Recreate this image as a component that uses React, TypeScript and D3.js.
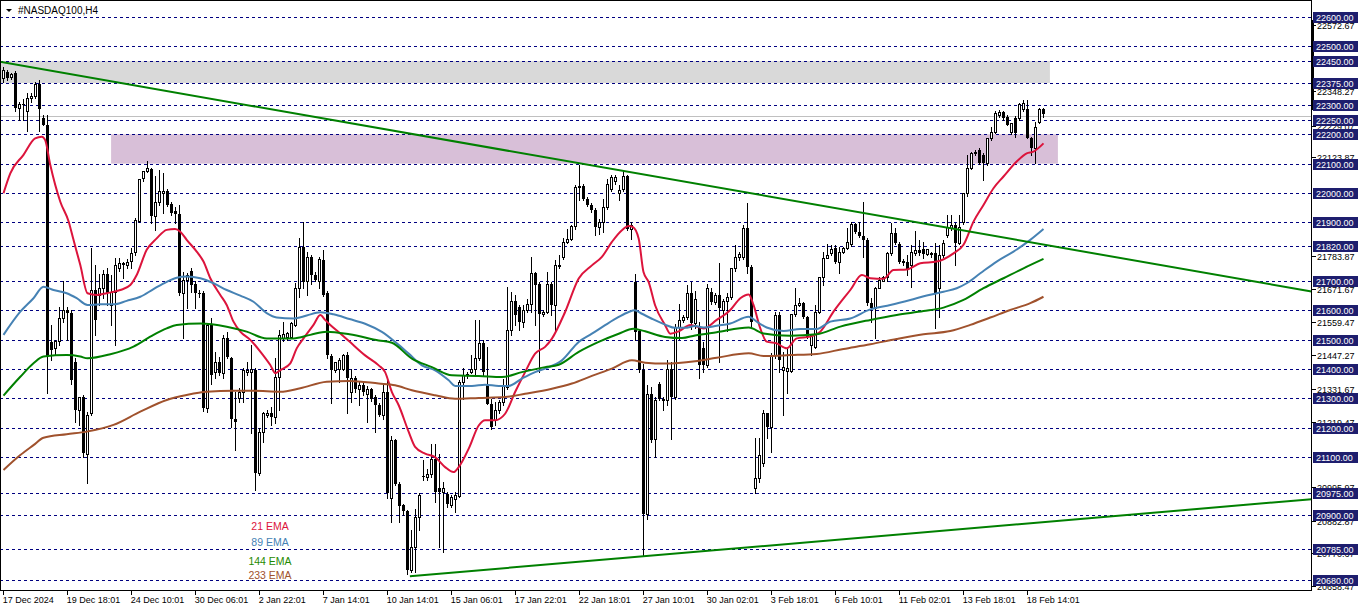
import React from 'react';
import * as d3 from 'd3';

// ---------- DATA ----------
const title = '#NASDAQ100,H4';

// OHLC per H4 bar: [open, high, low, close]
const ohlc: [number, number, number, number][] = [
  [22393,22428,22380,22420],[22412,22420,22385,22393],[22395,22410,22390,22405],[22408,22415,22280,22291],
  [22291,22310,22250,22305],[22305,22320,22250,22300],[22280,22340,22210,22323],[22323,22340,22310,22332],
  [22332,22378,22325,22371],[22371,22385,22210,22286],[22257,22265,22230,22232],[22232,22266,21317,21442],
  [21493,21550,21430,21464],[21470,21498,21447,21495],[21495,21612,21481,21575],[21575,21700,21561,21601],
  [21601,21612,21500,21590],[21590,21601,21350,21362],[21425,21436,21220,21260],[21260,21303,21210,21303],
  [21303,21311,21100,21112],[21110,21254,21010,21243],[21248,21813,21243,21669],[21669,21754,21516,21567],
  [21652,21722,21618,21675],[21675,21737,21641,21722],[21722,21743,21618,21658],[21618,21720,21550,21663],
  [21663,21777,21481,21754],[21743,21777,21735,21760],[21760,21766,21709,21754],[21754,21775,21745,21766],
  [21768,21811,21743,21796],[21800,21914,21788,21908],[21904,22048,21900,22048],[22050,22076,22040,22076],
  [22075,22109,22070,22084],[22082,22084,21896,21923],[21923,22059,21874,21968],[21968,22077,21959,22007],
  [21999,22067,21930,22007],[22007,22015,21955,21959],[21963,21970,21925,21930],[21939,21953,21896,21928],
  [21927,21959,21652,21658],[21658,21732,21504,21703],[21703,21726,21606,21720],[21735,21743,21663,21686],
  [21690,21698,21606,21658],[21660,21670,21645,21656],[21658,21664,21256,21265],[21268,21555,21254,21550],
  [21550,21572,21350,21380],[21390,21459,21368,21425],[21425,21440,21380,21385],[21385,21516,21368,21504],
  [21504,21527,21436,21442],[21436,21442,21203,21229],[21229,21322,21123,21220],[21300,21334,21288,21322],
  [21322,21402,21288,21396],[21390,21425,21380,21396],[21390,21481,21180,21400],[21396,21402,20987,21044],
  [21044,21197,21038,21186],[21186,21254,21152,21248],[21243,21260,21235,21248],[21248,21271,21209,21237],
  [21237,21436,21214,21373],[21373,21533,21260,21516],[21504,21561,21495,21518],[21510,21527,21500,21521],
  [21510,21561,21504,21555],[21550,21694,21545,21675],[21675,21845,21646,21817],[21817,21902,21675,21697],
  [21700,21800,21652,21783],[21783,21790,21690,21720],[21720,21730,21700,21703],[21700,21780,21675,21775],
  [21771,21805,21650,21652],[21658,21664,21436,21447],[21445,21450,21283,21396],[21396,21410,21390,21422],
  [21400,21436,21356,21430],[21400,21450,21395,21447],[21447,21459,21248,21368],[21321,21400,21287,21369],
  [21369,21375,21320,21330],[21330,21360,21276,21345],[21345,21352,21310,21322],[21315,21340,21219,21330],
  [21330,21335,21290,21298],[21304,21310,21185,21276],[21276,21285,21240,21242],[21242,21344,21230,21321],
  [21321,21369,20960,20978],[20960,21170,20878,21156],[21156,21160,21003,21008],[21008,21015,20878,20933],
  [20935,20940,20900,20914],[20914,20920,20700,20713],[20713,20849,20707,20792],[20792,20923,20707,20895],
  [20895,20975,20849,20969],[21035,21088,21020,21031],[21031,21060,21020,21043],[21043,21145,21030,21094],
  [21094,21145,20946,20980],[20994,21111,20792,20980],[20980,21014,20775,20994],[20974,20980,20929,20940],
  [20935,20969,20929,20963],[20957,20980,20912,20969],[20966,21361,20963,21355],[21355,21403,21298,21380],
  [21378,21390,21370,21384],[21389,21446,21385,21401],[21401,21566,21378,21438],[21438,21566,21430,21489],
  [21489,21497,21378,21389],[21344,21475,21281,21281],[21281,21298,21196,21202],[21225,21287,21207,21259],
  [21259,21293,21250,21287],[21287,21367,21276,21344],[21338,21679,21330,21531],[21531,21662,21514,21632],
  [21632,21651,21549,21583],[21611,21617,21531,21560],[21560,21617,21543,21600],[21600,21640,21595,21622],
  [21622,21782,21594,21727],[21727,21730,21549,21685],[21688,21696,21389,21588],[21586,21600,21580,21594],
  [21594,21730,21590,21688],[21688,21696,21583,21617],[21617,21770,21531,21753],[21751,21787,21745,21755],
  [21782,21848,21775,21833],[21833,21878,21830,21844],[21844,21892,21840,21887],[21887,22026,21878,22020],
  [22023,22094,21975,22017],[22023,22030,21975,21978],[21978,21985,21955,21958],[21958,21965,21935,21941],
  [21941,21947,21856,21884],[21884,21912,21861,21901],[21901,21981,21867,21952],[21952,22049,21945,22032],
  [22012,22060,22005,22055],[22040,22062,22030,22055],[22001,22026,21975,22009],[22015,22077,22005,22058],
  [22058,22060,21873,21878],[21878,21900,21844,21892],[21696,21725,21497,21526],[21528,21537,21389,21395],
  [21395,21418,20764,20906],[20906,21344,20889,21315],[21315,21338,21151,21156],[21162,21304,21099,21293],
  [21350,21355,21293,21298],[21293,21305,21259,21298],[21293,21429,21276,21401],[21401,21423,21162,21304],
  [21304,21554,21298,21543],[21543,21622,21503,21566],[21566,21583,21560,21577],[21577,21685,21571,21660],
  [21660,21696,21537,21555],[21555,21665,21540,21640],[21540,21560,21368,21413],[21470,21490,21390,21413],
  [21413,21690,21408,21675],[21663,21675,21620,21629],[21629,21660,21620,21652],[21652,21760,21425,21607],
  [21601,21640,21560,21630],[21630,21660,21530,21645],[21645,21745,21640,21743],[21743,21823,21735,21783],
  [21783,21800,21770,21792],[21783,21889,21775,21882],[21882,21967,21726,21749],[21749,21755,21544,21561],
  [20993,21163,20976,21027],[21027,21163,21015,21106],[21078,21260,21070,21248],[21248,21250,21163,21203],
  [21203,21453,21118,21447],[21447,21595,21436,21584],[21584,21595,21390,21430],[21396,21459,21243,21408],
  [21393,21470,21317,21402],[21393,21588,21390,21586],[21586,21675,21580,21618],[21618,21641,21615,21624],
  [21624,21629,21575,21578],[21578,21580,21504,21510],[21481,21520,21447,21516],[21476,21618,21470,21593],
  [21593,21715,21590,21715],[21715,21800,21686,21779],[21779,21825,21777,21788],[21794,21823,21790,21808],
  [21813,21823,21760,21766],[21766,21817,21726,21800],[21800,21815,21795,21813],[21813,21879,21810,21832],
  [21825,21902,21820,21893],[21893,21896,21865,21868],[21868,21902,21850,21854],[21854,21970,21782,21840],
  [21840,21845,21618,21624],[21624,21641,21561,21607],[21607,21680,21504,21677],[21677,21715,21675,21703],
  [21701,21718,21698,21715],[21715,21800,21698,21794],[21794,21896,21790,21862],[21862,21879,21825,21828],
  [21825,21834,21760,21766],[21768,21775,21755,21760],[21766,21788,21720,21737],[21754,21823,21680,21800],
  [21795,21870,21790,21807],[21807,21840,21790,21794],[21810,21834,21777,21791],[21791,21808,21788,21808],
  [21794,21800,21783,21788],[21794,21828,21538,21658],[21675,21823,21578,21788],[21788,21840,21780,21828],
  [21857,21925,21850,21885],[21879,21925,21875,21891],[21891,21896,21754,21828],[21828,21925,21825,21885],
  [21900,21999,21895,21999],[21999,22130,21990,22084],[22084,22141,22080,22135],[22135,22145,22130,22141],
  [22147,22152,22100,22101],[22130,22135,22044,22101],[22101,22186,22095,22186],[22186,22226,22180,22209],
  [22209,22280,22205,22272],[22266,22282,22260,22277],[22277,22280,22250,22255],[22260,22265,22230,22232],
  [22209,22240,22200,22238],[22257,22262,22192,22203],[22257,22308,22250,22302],[22286,22317,22280,22306],
  [22286,22317,22186,22186],[22186,22192,22130,22152],[22152,22243,22101,22226],[22243,22291,22238,22286],
  [22286,22291,22260,22268],
];

// EMA readings: [bar index, price]
const ema21: [number, number][] = [
  [0,21999],[1.7,22067],[5,22130],[7.9,22186],[9.6,22192],[10.4,22181],[11.7,22095],[14.2,21970],[16.3,21902],
  [17.5,21840],[19.2,21754],[21,21658],[23.3,21652],[25.8,21658],[29.2,21669],[31.7,21686],[33.3,21720],
  [35.8,21806],[38.3,21845],[40.8,21874],[42.9,21877],[44.2,21868],[45.8,21840],[48.3,21800],[50,21766],
  [51.7,21709],[54.2,21652],[55.8,21618],[57.5,21561],[59.2,21527],[61.7,21499],[64.2,21459],[66.7,21413],
  [68,21385],[69.2,21396],[71.7,21419],[73.3,21470],[75,21504],[77.5,21550],[79.2,21584],[80.4,21567],
  [81.7,21550],[84.2,21521],[86.5,21493],[90.4,21446],[93.8,21412],[95.4,21389],[97.1,21321],[98.8,21276],
  [101.3,21185],[102.9,21134],[105.4,21111],[107.9,21099],[110.4,21065],[112.5,21048],[113.8,21065],
  [116.3,21128],[118.8,21207],[120.4,21225],[122.9,21225],[125.4,21247],[127.9,21321],[130.4,21389],
  [132.9,21452],[135.4,21475],[137.1,21503],[140.4,21594],[143.8,21708],[147.1,21753],[149.6,21782],
  [152.1,21833],[154.6,21873],[156.3,21887],[157.3,21884],[158.8,21844],[160,21730],[161.3,21696],
  [162.9,21617],[165.4,21549],[166.7,21520],[168.8,21528],[171.7,21550],[175,21538],[178.3,21567],
  [181.7,21601],[184.2,21641],[186.3,21654],[187.5,21618],[189.2,21538],[190.8,21493],[193.3,21487],
  [195.8,21470],[198.3,21504],[201.7,21510],[204.2,21527],[207.5,21595],[211.7,21669],[214.6,21720],
  [216.7,21709],[220,21707],[222.5,21737],[225.8,21739],[229.2,21760],[233.3,21766],[237.5,21794],
  [240,21823],[242.5,21902],[245,21959],[247.5,22016],[250,22056],[253.3,22107],[255.8,22135],
  [257.5,22141],[260,22169],
];
const ema89: [number, number][] = [
  [0,21516],[4.2,21595],[7.5,21641],[10,21680],[12.5,21669],[15.8,21658],[18.3,21641],[21,21618],[24.2,21620],
  [27.5,21620],[30.8,21632],[34.2,21646],[37.5,21672],[40.8,21697],[43.3,21711],[45.8,21715],[49.2,21709],
  [52.5,21692],[55.8,21669],[59.2,21650],[62.5,21629],[65.8,21590],[68.3,21575],[72.5,21572],[75.8,21582],
  [79.2,21593],[82.5,21586],[86.5,21570],[90.4,21554],[94.6,21526],[97.9,21492],[101.3,21452],[104.6,21412],
  [107.9,21395],[111.3,21361],[112.9,21342],[117.1,21342],[120.4,21346],[123.8,21342],[126.3,21342],
  [129.6,21367],[132.9,21389],[135.4,21401],[139.6,21429],[143.8,21492],[147.1,21520],[150.4,21549],
  [153.8,21577],[156.3,21594],[157.8,21600],[159.6,21588],[162.1,21571],[165.4,21551],[167.9,21540],
  [170.4,21540],[172.9,21546],[175,21541],[178.3,21547],[181.7,21555],[186.3,21578],[188.3,21561],
  [190.8,21541],[195,21529],[199.2,21536],[203.3,21536],[206.7,21561],[211.7,21572],[216.7,21603],
  [221.7,21618],[226.7,21635],[230.8,21650],[235,21663],[238.3,21675],[240.8,21692],[244.2,21726],
  [248.3,21766],[252.5,21800],[256.7,21840],[260,21877],
];
const ema144: [number, number][] = [
  [0,21309],[4.2,21373],[7.5,21419],[10,21442],[15.8,21447],[19.2,21442],[21,21436],[26.7,21450],[32.5,21476],
  [37.5,21516],[40.8,21538],[43.3,21550],[49.2,21555],[55.8,21544],[60.8,21527],[65.8,21504],[72.5,21504],
  [76.7,21516],[80.8,21527],[86.5,21518],[93.8,21497],[97.1,21489],[102.1,21435],[107.1,21406],[112.1,21378],
  [118.8,21376],[124.6,21372],[129.6,21389],[135.4,21406],[138.8,21414],[143.8,21458],[148.8,21492],
  [153.8,21520],[157.5,21537],[160.4,21528],[165.4,21509],[169.6,21505],[172.9,21514],[178.3,21525],
  [186.3,21541],[190,21521],[196.7,21513],[203.3,21518],[209.2,21544],[216.7,21567],[223.3,21584],
  [230,21597],[235,21609],[240,21635],[245,21675],[250,21709],[255,21743],[260,21775],
];
const ema233: [number, number][] = [
  [0,21055],[4.2,21106],[7.5,21140],[10,21165],[15.8,21177],[20.8,21186],[27.5,21209],[34.2,21254],[40.8,21294],
  [45.8,21311],[50.8,21322],[57.5,21325],[62.5,21325],[69.2,21322],[74.2,21334],[80.8,21356],[86.5,21359],
  [93.8,21350],[97.9,21344],[102.1,21327],[107.9,21310],[112.9,21298],[118.8,21301],[125.4,21304],
  [130.4,21315],[137.1,21332],[142.1,21350],[147.1,21376],[152.1,21401],[157.1,21429],[160.4,21421],
  [165.4,21418],[172.9,21426],[178.3,21438],[186.3,21453],[190,21444],[196.7,21447],[203.3,21451],
  [210,21468],[216.7,21484],[223.3,21502],[230,21518],[236.7,21529],[241.7,21550],[246.7,21575],
  [251.7,21601],[256.7,21624],[260,21646],
];

// Horizontal levels (boxed on the price axis)
const levelPrices = [22600,22500,22450,22375,22300,22250,22200,22100,22000,21900,21820,21700,21600,21500,21400,21300,21200,21100,20975,20900,20785,20680];
// Automatic price-scale labels
const scalePrices = [22572.67,22348.27,22229.07,22123.87,21783.87,21671.67,21559.47,21447.27,21331.67,21219.47,20995.97,20882.87,20770.67,20658.47];
// Time labels every 16 bars
const timeLabels = ['17 Dec 2024','19 Dec 18:01','24 Dec 10:01','30 Dec 06:01','2 Jan 22:01','7 Jan 14:01','10 Jan 14:01','15 Jan 06:01','17 Jan 22:01','22 Jan 18:01','27 Jan 10:01','30 Jan 02:01','3 Feb 18:01','6 Feb 10:01','11 Feb 02:01','13 Feb 18:01','18 Feb 14:01'];
const bidPrice = 22262;
// Zones: [startBar, endBar, high, low]
const grayZone: [number, number, number, number] = [-1, 261.6, 22450, 22375];
const purpleZone: [number, number, number, number] = [26.9, 263.6, 22200, 22100];
// Trend lines: two anchors [bar, price]
const downTrend: [number, number][] = [[0, 22445], [260, 21824]];
const upTrend: [number, number][] = [[101.6, 20693], [160, 20761]];
const legendItems = ['21 EMA', '89 EMA', '144 EMA', '233 EMA'];

// ---------- CHART ----------
const W = 1362, H = 611;
const PR = 1311.5; // plot right border
const PB = 590.5;  // plot bottom border
const FONT = '"Liberation Sans", Arial, sans-serif';

export default function App() {
  const x = d3.scaleLinear().domain([0, 260]).range([3.5, 1043.5]);
  const y = d3.scaleLinear().domain([20680, 22600]).range([580, 17]);
  const snap = (v: number) => Math.round(v) + 0.5;
  const line = d3.line<[number, number]>().x(d => x(d[0])).y(d => y(d[1])).curve(d3.curveMonotoneX);

  const emaSeries = [
    { pts: ema21, color: '#dc143c' },
    { pts: ema89, color: '#4682b4' },
    { pts: ema144, color: '#008000' },
    { pts: ema233, color: '#a0522d' },
  ];
  const legendColors = ['#dc143c', '#4682b4', '#1f8a00', '#a0522d'];
  const legendY = [530, 546, 565, 579];

  const trendPath = (a: [number, number][], extendLeft: boolean) => {
    const x1 = x(a[0][0]), y1 = y(a[0][1]), x2 = x(a[1][0]), y2 = y(a[1][1]);
    const k = (y2 - y1) / (x2 - x1);
    const xs = extendLeft ? 0 : x1;
    const ys = y1 + k * (xs - x1);
    const ye = y1 + k * (PR - x1);
    return `M${xs},${ys}L${PR},${ye}`;
  };

  const zoneRect = (z: [number, number, number, number], fill: string) => {
    const x0 = Math.max(0, x(z[0])), x1 = x(z[1]);
    return <rect x={x0} y={y(z[2])} width={x1 - x0} height={y(z[3]) - y(z[2])} fill={fill} />;
  };

  return (
    <div style={{ position: 'absolute', left: 0, top: 0 }}>
      <svg width={W} height={H} style={{ display: 'block', background: '#fff' }}>
        <rect x={0} y={0} width={W} height={H} fill="#fff" />
        {zoneRect(grayZone, '#d9d9d9')}
        {zoneRect(purpleZone, '#d8bfd8')}

        {/* level lines */}
        {levelPrices.map(p => (
          <line key={p} x1={0} x2={PR} y1={snap(y(p))} y2={snap(y(p))} stroke="#000080" strokeWidth={1} strokeDasharray="3,3" shapeRendering="crispEdges" />
        ))}
        {/* bid line */}
        <line x1={0} x2={PR} y1={snap(y(bidPrice))} y2={snap(y(bidPrice))} stroke="#c0c0c0" strokeWidth={1} shapeRendering="crispEdges" />

        {/* candles */}
        <g shapeRendering="crispEdges">
          {ohlc.map(([o, h, l, c], i) => {
            const cx = Math.floor(x(i)) + 0.5;
            const yH = Math.round(y(h)), yL = Math.round(y(l));
            const yO = Math.round(y(o)), yC = Math.round(y(c));
            const top = Math.min(yO, yC), bot = Math.max(yO, yC);
            const bull = c >= o;
            return (
              <g key={i}>
                <line x1={cx} x2={cx} y1={yH} y2={yL + 1} stroke="#000" strokeWidth={1} />
                {bull ? (
                  <rect x={cx - 1} y={top + 0.5} width={2} height={Math.max(bot - top, 0)} fill="#fff" stroke="#000" strokeWidth={1} />
                ) : (
                  <rect x={cx - 1.5} y={top} width={3} height={Math.max(bot - top, 1)} fill="#000" />
                )}
              </g>
            );
          })}
        </g>

        {/* EMAs */}
        {emaSeries.map((s, k) => (
          <path key={k} d={line(s.pts) || ''} fill="none" stroke={s.color} strokeWidth={2} />
        ))}

        {/* trend lines */}
        <path d={trendPath(downTrend, true)} stroke="#008000" strokeWidth={2} fill="none" />
        <path d={trendPath(upTrend, false)} stroke="#008000" strokeWidth={2} fill="none" />

        {/* legend */}
        {legendItems.map((t, k) => (
          <text key={t} x={270} y={legendY[k]} textAnchor="middle" fill={legendColors[k]} fontFamily={FONT} fontSize={10.5}>{t}</text>
        ))}

        {/* title */}
        <path d="M6,9L12,9L9,12Z" fill="#000" />
        <text x={18} y={14} fontFamily={FONT} fontSize={10} fill="#000">{title}</text>

        {/* frame */}
        <g shapeRendering="crispEdges">
          <line x1={0.5} x2={0.5} y1={0} y2={PB} stroke="#000" />
          <line x1={0} x2={PR} y1={0.5} y2={0.5} stroke="#000" />
          <line x1={PR} x2={PR} y1={0} y2={PB} stroke="#000" />
          <line x1={0} x2={PR} y1={PB} y2={PB} stroke="#000" />
          <rect x={1311} y={20} width={3} height={90} fill="#000" />
        </g>

        {/* time axis */}
        {timeLabels.map((t, k) => {
          const tx = Math.floor(x(k * 16)) + 0.5;
          return (
            <g key={t}>
              <line x1={tx} x2={tx} y1={PB} y2={PB + 4} stroke="#000" shapeRendering="crispEdges" />
              <text x={tx - 0.8} y={603} fontFamily={FONT} fontSize={9} fill="#000">{t}</text>
            </g>
          );
        })}

        {/* price axis: auto labels */}
        {scalePrices.map(p => {
          const yy = snap(y(p));
          return (
            <g key={p}>
              <line x1={PR} x2={PR + 4} y1={yy} y2={yy} stroke="#000" shapeRendering="crispEdges" />
              <text x={1317} y={yy + 3.5} fontFamily={FONT} fontSize={9} fill="#000">{p.toFixed(2)}</text>
            </g>
          );
        })}
        {/* price axis: level boxes */}
        {levelPrices.map(p => {
          const yy = Math.round(y(p));
          return (
            <g key={p}>
              <rect x={1313} y={yy - 5} width={45} height={11} fill="#1e1e6e" />
              <text x={1316} y={yy + 3.5} fontFamily={FONT} fontSize={9} fill="#fff">{p.toFixed(2)}</text>
            </g>
          );
        })}
      </svg>
    </div>
  );
}
